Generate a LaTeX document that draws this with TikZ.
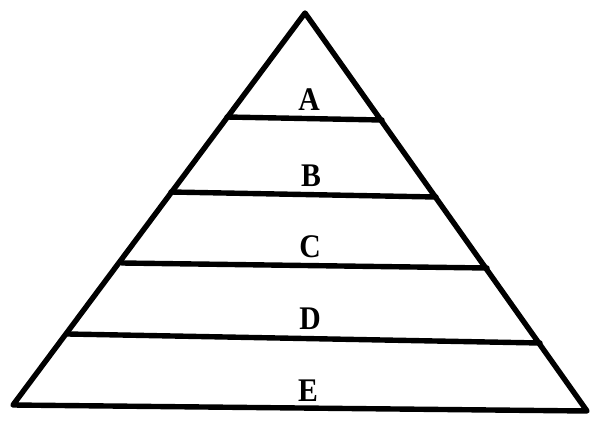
\documentclass[tikz,border=0pt]{standalone}
\usepackage{fontspec}
\setmainfont{Liberation Serif}
\usetikzlibrary{positioning,calc}
\begin{document}
\begin{tikzpicture}[x=1pt,y=-1pt,line width=5.4pt,line cap=round,line join=round,
  layertext/.style={font=\bfseries\fontsize{33}{33}\selectfont,inner sep=0pt,xscale=0.9}]
  \useasboundingbox (0,0) rectangle (591,423);
  \coordinate (apex) at (305,13);
  \coordinate (baseL) at (13,405);
  \coordinate (baseR) at (587,411);
  \draw (baseL) -- (apex) -- (baseR) -- cycle;
  % the layer dividers
  \foreach \n/\xl/\yl/\xr/\yr in {a/227/117/382/120,b/171/192/436/197,c/122/263/487/268,d/68/334/540/343}{
    \coordinate (\n L) at (\xl,\yl);
    \coordinate (\n R) at (\xr,\yr);
    \draw (\n L) -- (\n R);
  }
  \foreach \n/\lab/\x/\y in {a/A/309/100,b/B/311/176,c/C/310/247,d/D/310/319,e/E/308/391}
    \node[layertext] (lab\n) at (\x,\y) {\lab};
\end{tikzpicture}
\end{document}
